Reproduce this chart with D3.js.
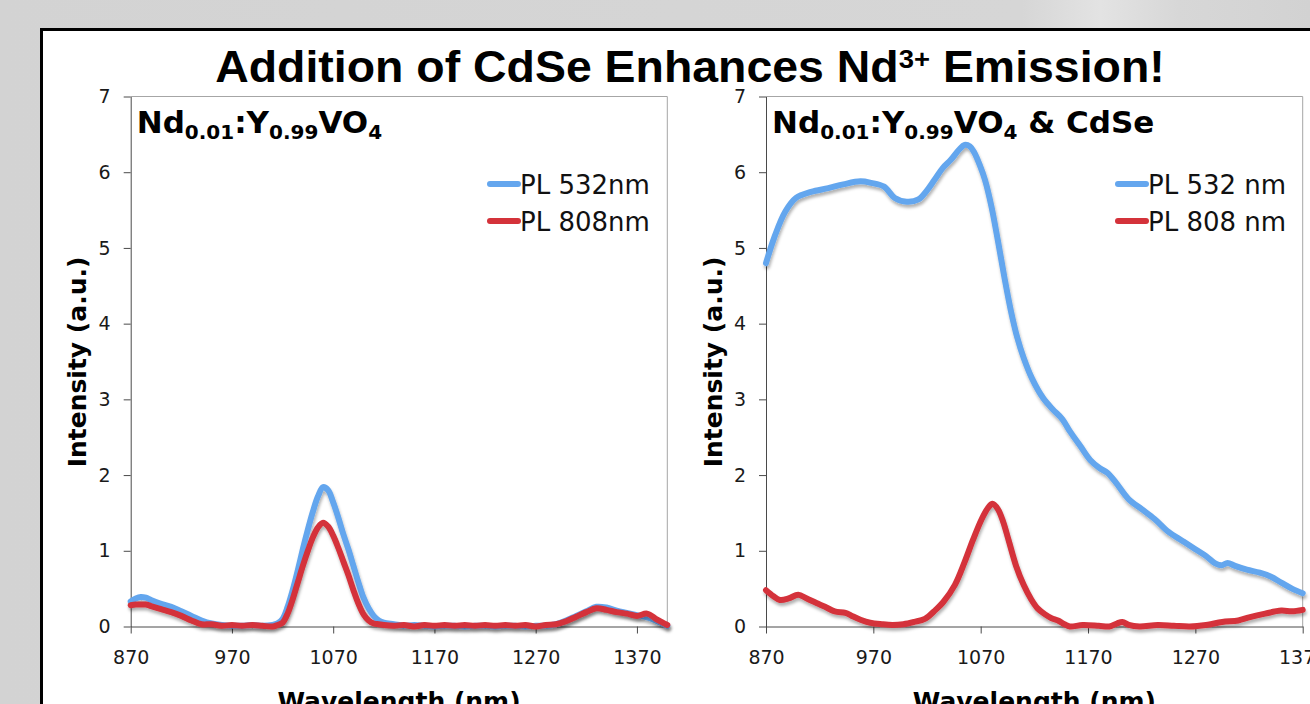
<!DOCTYPE html>
<html lang="en">
<head>
<meta charset="UTF-8">
<title>Addition of CdSe Enhances Nd3+ Emission!</title>
<script src="https://d3js.org/d3.v7.min.js"></script>
<style>
  html, body { margin: 0; padding: 0; background: #d4d4d4; overflow: hidden; }
  svg { display: block; }
  .tick text { font-family: "DejaVu Sans", Verdana, sans-serif; font-size: 19px; fill: #1a1a1a; }
  .axis path, .axis line { stroke: #4a4a4a; }
</style>
</head>
<body>
<script>
// ---- data ----
const xTicks = [870, 970, 1070, 1170, 1270, 1370]
const yTicks = [0, 1, 2, 3, 4, 5, 6, 7]
const legendLeft = ['PL 532nm', 'PL 808nm']
const legendRight = ['PL 532 nm', 'PL 808 nm']

// left panel: Nd0.01:Y0.99VO4
const leftWavelength = [870, 875, 880, 885, 890, 900, 910, 920, 930, 940, 950, 960, 970, 980, 990, 1000, 1010, 1015,
  1020, 1025, 1030, 1035, 1040, 1045, 1050, 1055, 1060, 1065, 1070, 1075, 1080, 1085, 1090, 1095, 1100, 1105, 1110,
  1115, 1120, 1130, 1140, 1150, 1160, 1170, 1180, 1190, 1200, 1210, 1220, 1230, 1240, 1250, 1260, 1270, 1280, 1290,
  1300, 1310, 1320, 1330, 1340, 1350, 1360, 1370, 1380, 1390, 1400]
const leftPL532 = [0.33, 0.37, 0.39, 0.38, 0.35, 0.30, 0.26, 0.20, 0.14, 0.08, 0.04, 0.02, 0.01, 0.01, 0.02, 0.01, 0.02, 0.04,
  0.10, 0.26, 0.48, 0.74, 1.02, 1.28, 1.52, 1.72, 1.84, 1.80, 1.64, 1.44, 1.22, 1.02, 0.80, 0.58, 0.38, 0.24, 0.14,
  0.08, 0.05, 0.03, 0.01, 0.02, 0.01, 0.00, 0.01, 0.01, 0.00, 0.01, 0.01, 0.00, 0.01, 0.01, 0.00, 0.01, 0.01, 0.03,
  0.08, 0.14, 0.20, 0.26, 0.25, 0.21, 0.18, 0.15, 0.12, 0.07, 0.01]
const leftPL808 = [0.28, 0.29, 0.29, 0.29, 0.27, 0.23, 0.19, 0.14, 0.08, 0.03, 0.03, 0.01, 0.02, 0.01, 0.02, 0.01, 0.00, 0.02,
  0.05, 0.17, 0.36, 0.58, 0.80, 1.00, 1.18, 1.31, 1.37, 1.32, 1.20, 1.04, 0.86, 0.68, 0.48, 0.30, 0.16, 0.08, 0.04,
  0.03, 0.02, 0.01, 0.02, 0.00, 0.02, 0.01, 0.02, 0.01, 0.02, 0.01, 0.02, 0.01, 0.02, 0.01, 0.02, 0.00, 0.02, 0.03,
  0.07, 0.13, 0.19, 0.24, 0.22, 0.19, 0.17, 0.14, 0.17, 0.09, 0.02]

// right panel: Nd0.01:Y0.99VO4 & CdSe
const rightWavelength532 = [870, 878, 888, 898, 912, 928, 942, 958, 968, 980, 990, 1001, 1012, 1020, 1027, 1035, 1042,
  1050, 1055, 1060, 1064, 1069, 1074, 1080, 1086, 1092, 1098, 1104, 1110, 1118, 1128, 1137, 1146, 1153, 1163, 1172,
  1181, 1188, 1196, 1208, 1220, 1232, 1245, 1258, 1270, 1280, 1289, 1295, 1300, 1307, 1318, 1330, 1340, 1350, 1360, 1370]
const rightPL532 = [4.80, 5.15, 5.48, 5.66, 5.74, 5.79, 5.84, 5.88, 5.86, 5.81, 5.66, 5.61, 5.64, 5.76, 5.90, 6.06, 6.16,
  6.30, 6.36, 6.34, 6.26, 6.10, 5.90, 5.55, 5.10, 4.62, 4.18, 3.82, 3.55, 3.27, 3.02, 2.87, 2.74, 2.58, 2.38, 2.20,
  2.09, 2.03, 1.90, 1.68, 1.55, 1.42, 1.25, 1.13, 1.02, 0.93, 0.83, 0.81, 0.84, 0.80, 0.75, 0.71, 0.66, 0.58, 0.50, 0.44]
const rightWavelength808 = [870, 877, 883, 891, 900, 908, 917, 925, 934, 944, 950, 958, 967, 978, 988, 998, 1008, 1018,
  1028, 1035, 1046, 1055, 1063, 1071, 1077, 1081, 1086, 1091, 1096, 1103, 1110, 1117, 1123, 1130, 1136, 1142, 1148,
  1153, 1165, 1180, 1190, 1197, 1202, 1208, 1218, 1235, 1250, 1265, 1280, 1295, 1310, 1320, 1335, 1350, 1360, 1370]
const rightPL808 = [0.48, 0.40, 0.35, 0.37, 0.42, 0.37, 0.31, 0.26, 0.20, 0.18, 0.14, 0.09, 0.05, 0.03, 0.02, 0.03, 0.06, 0.10,
  0.22, 0.32, 0.55, 0.85, 1.15, 1.42, 1.57, 1.62, 1.55, 1.38, 1.14, 0.80, 0.55, 0.36, 0.24, 0.16, 0.11, 0.08, 0.03,
  0.00, 0.02, 0.01, 0.00, 0.04, 0.06, 0.02, 0.00, 0.02, 0.01, 0.00, 0.02, 0.06, 0.08, 0.12, 0.17, 0.21, 0.20, 0.22]

const blue = '#64a6ee'
const red = '#d4323a'

const width = 1310
const height = 704

const svg = d3.select('body').append('svg')
  .attr('width', width)
  .attr('height', height)

const defs = svg.append('defs')
const bg = defs.append('linearGradient').attr('id', 'bg').attr('x1', 0).attr('x2', 1).attr('y1', 0).attr('y2', 0)
bg.append('stop').attr('offset', 0).attr('stop-color', '#d3d3d3')
bg.append('stop').attr('offset', 0.78).attr('stop-color', '#d6d6d6')
bg.append('stop').attr('offset', 0.84).attr('stop-color', '#e3e3e3')
bg.append('stop').attr('offset', 0.9).attr('stop-color', '#d7d7d7')
bg.append('stop').attr('offset', 1).attr('stop-color', '#d2d2d2')

defs.append('filter').attr('id', 'shadow').attr('x', '-5%').attr('y', '-5%').attr('width', '110%').attr('height', '120%')
  .append('feDropShadow')
  .attr('dx', 1).attr('dy', 3).attr('stdDeviation', 1.8)
  .attr('flood-color', '#000').attr('flood-opacity', 0.3)

svg.append('rect').attr('width', width).attr('height', height).attr('fill', 'url(#bg)')

// slide
svg.append('rect')
  .attr('x', 41.5).attr('y', 29.5)
  .attr('width', 1400).attr('height', 800)
  .attr('fill', '#fff')
  .attr('stroke', '#000')
  .attr('stroke-width', 3)

// title, squeezed to the narrow look of the original
const title = svg.append('text')
  .attr('x', 690).attr('y', 82)
  .attr('text-anchor', 'middle')
  .style('font-family', '"Liberation Sans", Arial, sans-serif')
  .style('font-weight', 'bold')
  .style('font-size', '44px')
  .attr('fill', '#000')
title.append('tspan').text('Addition of CdSe Enhances Nd')
title.append('tspan').text('3+').style('font-size', '26px').attr('dy', -14)
title.append('tspan').text(' Emission!').attr('dy', 14)
const tw = title.node().getBBox().width
title.attr('transform', `translate(690,0) scale(${950 / tw},1) translate(-690,0)`)

function subLabel(g, x, y, parts) {
  const t = g.append('text')
    .attr('x', x).attr('y', y)
    .style('font-family', '"DejaVu Sans", Verdana, sans-serif')
    .style('font-weight', 'bold')
    .style('font-size', '31px')
  let down = false
  parts.forEach(p => {
    const isSub = p[1]
    const ts = t.append('tspan').text(p[0])
    if (isSub) {
      ts.style('font-size', '20px')
      if (!down) ts.attr('dy', 6)
      down = true
    } else {
      if (down) ts.attr('dy', -6)
      down = false
    }
  })
}

function panel(opts) {
  const x = d3.scaleLinear().domain(opts.xDomain).range([opts.left, opts.right])
  const y = d3.scaleLinear().domain([0, 7]).range([626.5, 96.5])
  const g = svg.append('g')

  // plot border (top + right)
  g.append('path')
    .attr('d', `M${opts.left},96.5H${opts.right}V626.5`)
    .attr('fill', 'none')
    .attr('stroke', '#a6a6a6')
    .attr('stroke-width', 1)

  g.append('g')
    .attr('class', 'axis')
    .attr('transform', 'translate(0,626.5)')
    .call(d3.axisBottom(x).tickValues(xTicks).tickFormat(d3.format('d')).tickSize(7).tickSizeOuter(0).tickPadding(17))
  g.append('g')
    .attr('class', 'axis')
    .attr('transform', `translate(${opts.left},0)`)
    .call(d3.axisLeft(y).tickValues(yTicks).tickFormat(d3.format('d')).tickSize(7).tickSizeOuter(0).tickPadding(13))

  const line = d3.line().curve(d3.curveCatmullRom.alpha(0.5))
  opts.series.forEach(s => {
    g.append('path')
      .datum(s.wl.map((w, i) => [x(w), y(s.v[i])]))
      .attr('d', line)
      .attr('fill', 'none')
      .attr('stroke', s.color)
      .attr('stroke-width', 6)
      .attr('stroke-linejoin', 'round')
      .attr('stroke-linecap', 'round')
      .attr('filter', 'url(#shadow)')
  })

  // axis titles
  g.append('text')
    .attr('transform', `translate(${opts.yTitleX},362) rotate(-90)`)
    .attr('text-anchor', 'middle')
    .style('font-family', '"DejaVu Sans", Verdana, sans-serif')
    .style('font-weight', 'bold')
    .style('font-size', '25px')
    .text('Intensity (a.u.)')
  g.append('text')
    .attr('x', (opts.left + opts.right) / 2).attr('y', 710)
    .attr('text-anchor', 'middle')
    .style('font-family', '"DejaVu Sans", Verdana, sans-serif')
    .style('font-weight', 'bold')
    .style('font-size', '25px')
    .text('Wavelength (nm)')

  subLabel(g, opts.left + 6, 133, opts.label)

  // legend
  opts.legend.forEach((name, i) => {
    const ly = 184 + i * 37
    g.append('line')
      .attr('x1', opts.legendX).attr('x2', opts.legendX + 28)
      .attr('y1', ly).attr('y2', ly)
      .attr('stroke', opts.series[i].color)
      .attr('stroke-width', 6)
      .attr('stroke-linecap', 'round')
    g.append('text')
      .attr('x', opts.legendX + 30).attr('y', ly + 10)
      .style('font-family', '"DejaVu Sans", Verdana, sans-serif')
      .style('font-size', '26px')
      .attr('fill', '#111')
      .text(name)
  })
}

panel({
  left: 130.7, right: 667.3, xDomain: [870, 1400],
  yTitleX: 86,
  legendX: 490,
  legend: legendLeft,
  label: [['Nd', false], ['0.01', true], [':Y', false], ['0.99', true], ['VO', false], ['4', true]],
  series: [
    { wl: leftWavelength, v: leftPL532, color: blue },
    { wl: leftWavelength, v: leftPL808, color: red }
  ]
})

panel({
  left: 766, right: 1302.7, xDomain: [870, 1370],
  yTitleX: 722,
  legendX: 1118,
  legend: legendRight,
  label: [['Nd', false], ['0.01', true], [':Y', false], ['0.99', true], ['VO', false], ['4', true], [' & CdSe', false]],
  series: [
    { wl: rightWavelength532, v: rightPL532, color: blue },
    { wl: rightWavelength808, v: rightPL808, color: red }
  ]
})
</script>
</body>
</html>
